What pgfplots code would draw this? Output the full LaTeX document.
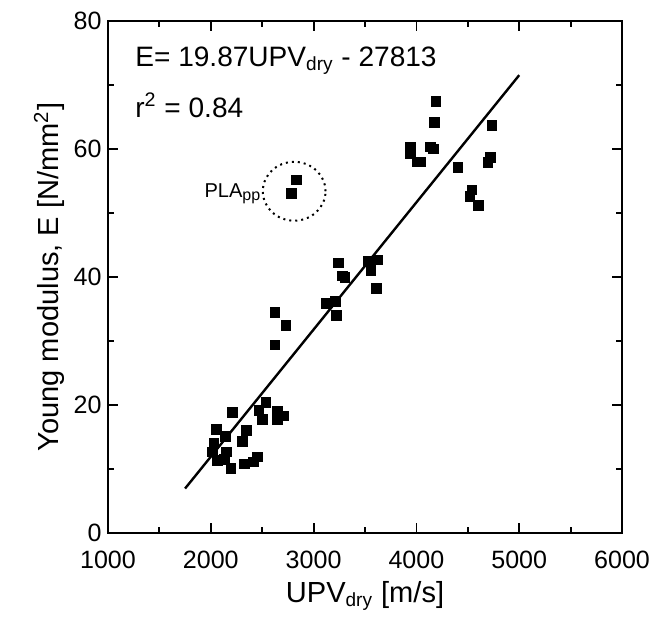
\documentclass[border=0pt]{standalone}
\usepackage{pgfplots}
\pgfplotsset{compat=1.18}
\usepackage{fontspec}
\setmainfont{Liberation Sans}
\begin{document}
\begin{tikzpicture}
\begin{axis}[
  scale only axis,
  width=256.5pt, height=255.5pt,
  xmin=1000, xmax=6000, ymin=0, ymax=80,
  xtick={1000,2000,...,6000},
  ytick={0,20,...,80},
  minor x tick num=1, minor y tick num=1,
  tick align=inside,
  major tick length=5pt, minor tick length=3pt,
  every tick/.style={black, line width=0.9pt},
  axis line style={line width=1pt},
  tick label style={font=\fontsize{12.5}{14}\selectfont, inner sep=1pt},
  xticklabel style={yshift=-7.5pt},
  yticklabel style={xshift=-2pt},
  /pgf/number format/assume math mode=true,
  /pgf/number format/1000 sep={},
  xlabel={UPV\textsubscript{\fontsize{9.5}{10}\selectfont dry} [m/s]},
  ylabel={Young modulus, E [N/mm\textsuperscript{2}]},
  label style={font=\fontsize{14.5}{16}\selectfont},
  xlabel style={yshift=-2pt},
  clip=false,
]
\addplot[only marks, mark=square*, mark size=2.4pt, black] coordinates {
(2211,18.9) (2536,20.4) (2468,19.2) (2500,17.8) (2646,19.0) (2711,18.3) (2649,17.8)
(2055,16.2) (2143,15.1) (2347,16.0) (2305,14.3) (2029,14.1) (2013,12.7) (2153,12.7)
(2062,11.4) (2130,11.5) (2195,10.1) (2325,10.8) (2416,11.1) (2455,11.9)
(2623,34.5) (2730,32.4) (2623,29.4)
(3126,35.9) (3214,36.2) (3224,34.0) (3240,42.2) (3279,40.2) (3305,39.9)
(3532,42.5) (3623,42.7) (3558,41.0) (3613,38.2)
(2834,55.2) (2785,53.1)
(3944,60.3) (3944,59.3) (4005,58.0) (4040,58.0) (4135,60.3) (4165,60.0)
(4172,64.2) (4188,67.4) (4402,57.1) (4538,53.6) (4522,52.6) (4603,51.2)
(4694,57.9) (4717,58.7) (4733,63.7)
};
\addplot[black, line width=1.2pt] coordinates {(1750,6.96) (5000,71.54)};
\draw[dotted, line width=1pt] (axis cs:2811,53.4) ellipse [x radius=305, y radius=4.6];
\node[anchor=east, inner sep=1pt, font=\fontsize{10}{12}\selectfont] at (axis cs:2515,53.0) {PLA\textsubscript{\fontsize{8}{9}\selectfont pp}};
\node[anchor=west, inner sep=0pt, font=\fontsize{14}{16}\selectfont] at (axis cs:1263,73.8) {E= 19.87UPV\textsubscript{\fontsize{9.5}{10}\selectfont dry} - 27813};
\node[anchor=west, inner sep=0pt, font=\fontsize{14}{16}\selectfont] at (axis cs:1263,66.8) {r\textsuperscript{2} = 0.84};
\path (rel axis cs:-0.210,-0.184) (rel axis cs:1.068,1.041);
\end{axis}
\end{tikzpicture}
\end{document}
